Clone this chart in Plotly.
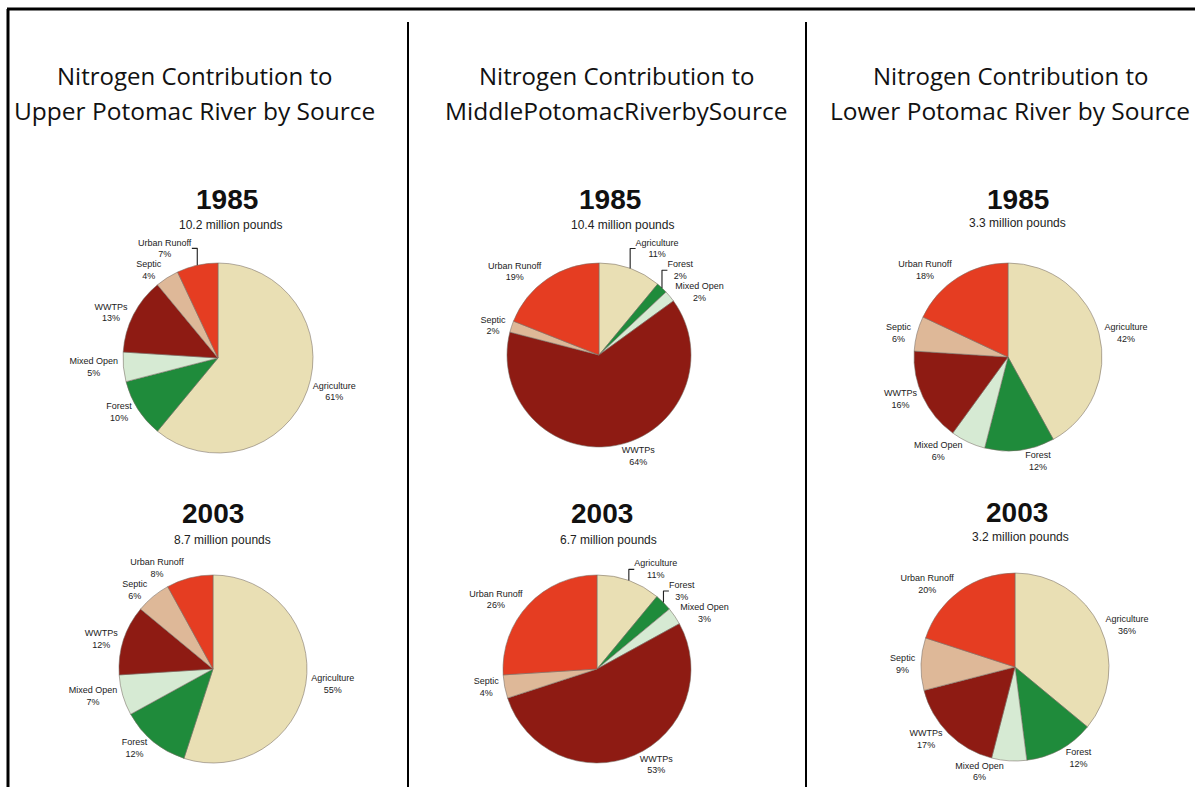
import plotly.graph_objects as go

W, H = 1195, 787

sources = ["Agriculture", "Forest", "Mixed Open", "WWTPs", "Septic", "Urban Runoff"]
colors = ["#E9DFB4", "#1F8B3B", "#D6EAD3", "#8E1B13", "#DEB898", "#E53D22"]

upper_1985 = [61, 10, 5, 13, 4, 7]
upper_2003 = [55, 12, 7, 12, 6, 8]
middle_1985 = [11, 2, 2, 64, 2, 19]
middle_2003 = [11, 3, 3, 53, 4, 26]
lower_1985 = [42, 12, 6, 16, 6, 18]
lower_2003 = [36, 12, 6, 17, 9, 20]

years = ["1985", "2003"]
totals = {
    "upper": ["10.2 million pounds", "8.7 million pounds"],
    "middle": ["10.4 million pounds", "6.7 million pounds"],
    "lower": ["3.3 million pounds", "3.2 million pounds"],
}
titles_line1 = ["Nitrogen Contribution to"] * 3
titles_line2 = ["Upper Potomac River by Source", "MiddlePotomacRiverbySource", "Lower Potomac River by Source"]

# layout: pie centres / radii in pixels
pies = [
    (upper_1985, 218, 358, 95),
    (upper_2003, 213, 669, 94),
    (middle_1985, 599, 355, 92),
    (middle_2003, 597, 669, 94),
    (lower_1985, 1008, 357, 94),
    (lower_2003, 1015, 667, 94),
]

fig = go.Figure()
for vals, cx, cy, r in pies:
    fig.add_trace(go.Pie(
        labels=sources, values=vals, sort=False, direction="clockwise", rotation=0,
        marker=dict(colors=colors, line=dict(color="rgba(120,110,100,0.7)", width=0.8)),
        texttemplate="%{label}<br>%{value}%", textposition="outside",
        textfont=dict(family="Liberation Sans, Arial", size=9, color="#222"),
        domain=dict(x=[(cx - r) / W, (cx + r) / W], y=[1 - (cy + r) / H, 1 - (cy - r) / H]),
        showlegend=False, hoverinfo="label+percent",
    ))

ann = []
def add_text(x, y, text, size, family, color="#111"):
    ann.append(dict(x=x / W, y=1 - y / H, xref="paper", yref="paper", text=text, showarrow=False,
                    xanchor="center", yanchor="middle",
                    font=dict(size=size, family=family, color=color)))

title_x = [194, 616, 1010]
for i in range(3):
    add_text(title_x[i], 75, titles_line1[i], 24, "Open Sans")
    add_text(title_x[i], 110, titles_line2[i], 24.5, "Open Sans")

year_pos = {
    "upper": [((227, 200), (230, 225)), ((213, 513), (222, 540))],
    "middle": [((610, 200), (622, 225)), ((602, 513), (608, 540))],
    "lower": [((1018, 200), (1017, 223)), ((1017, 512), (1020, 537))],
}
for key, pos in year_pos.items():
    for j, ((yx, yy), (sx, sy)) in enumerate(pos):
        add_text(yx, yy, "<b>" + years[j] + "</b>", 28, "Liberation Sans, Arial")
        add_text(sx, sy, totals[key][j], 12, "Liberation Sans, Arial", "#222")

shapes = [
    dict(type="line", xref="paper", yref="paper", x0=7 / W, x1=1, y0=1 - 9 / H, y1=1 - 9 / H,
         line=dict(color="black", width=3)),
    dict(type="line", xref="paper", yref="paper", x0=8 / W, x1=8 / W, y0=1 - 9 / H, y1=0,
         line=dict(color="black", width=3)),
    dict(type="line", xref="paper", yref="paper", x0=408 / W, x1=408 / W, y0=1 - 22 / H, y1=0,
         line=dict(color="black", width=2)),
    dict(type="line", xref="paper", yref="paper", x0=806 / W, x1=806 / W, y0=1 - 22 / H, y1=0,
         line=dict(color="black", width=2)),
]

fig.update_layout(width=W, height=H, margin=dict(l=0, r=0, t=0, b=0),
                  paper_bgcolor="white", plot_bgcolor="white",
                  annotations=ann, shapes=shapes)
fig.write_html("out.html", config={"displayModeBar": False},
               post_script="document.body.style.margin='0';document.body.style.overflow='hidden';")
